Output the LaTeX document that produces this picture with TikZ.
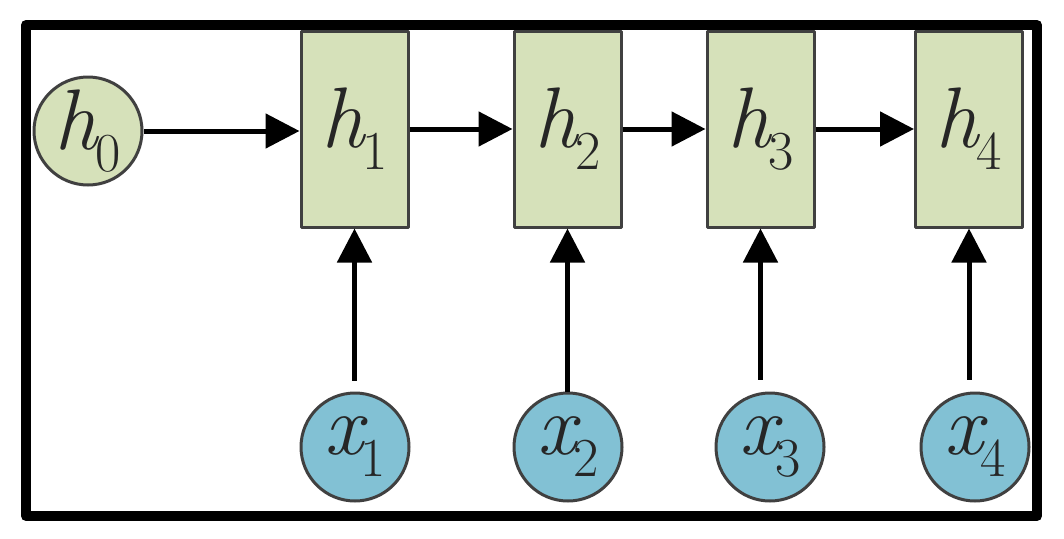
\documentclass[tikz,border=0pt]{standalone}
\usetikzlibrary{arrows.meta}
\definecolor{cellgreen}{RGB}{214,225,186}
\definecolor{inblue}{RGB}{130,193,212}
\newcommand{\lbl}[2]{{\itshape #1}\kern-2pt\raisebox{-22pt}{\fontsize{55}{57}\selectfont #2}}
\begin{document}
\begin{tikzpicture}[x=1pt, y=-1pt, line join=round, >={Triangle[length=34pt,width=34pt]},
		font=\fontsize{86}{90}\selectfont,
		cell/.style={draw=black!75, line width=3pt, fill=cellgreen, text=black!85, minimum width=107pt, minimum height=196pt, inner sep=0pt},
		state/.style={circle, draw=black!75, line width=3pt, fill=cellgreen, text=black!85, minimum size=108pt, inner sep=0pt},
		inp/.style={circle, draw=black!75, line width=3pt, fill=inblue, text=black!85, minimum size=108pt, inner sep=0pt},
		link/.style={->, line width=5pt}]
			\useasboundingbox (0,0) rectangle (1064,538);
			\draw[line width=10pt] (26,25) rectangle (1037,516);
			% hidden states
			\node[state] (h0) at (88,131) {\lbl{h}{0}};
			\foreach \i/\xc in {1/354.5, 2/567.5, 3/760.5, 4/969} {
				\node[cell] (h\i) at (\xc,129) {\lbl{h}{\i}};
			}
			% inputs
			\foreach \i/\xc in {1/355, 2/568, 3/770, 4/975} {
				\node[inp] (x\i) at (\xc,447) {\lbl{x}{\i}};
			}
			\draw[link] (h0) -- (h0 -| h1.west);
			\draw[link] (h1) -- (h2);
			\draw[link] (h2) -- (h3);
			\draw[link] (h3) -- (h4);
			\foreach \i/\gap in {1/11, 2/0, 3/12, 4/12} {
				\draw[link, shorten <=\gap pt] (h\i |- x\i.north) -- (h\i.south);
			}
		\end{tikzpicture}
\end{document}
